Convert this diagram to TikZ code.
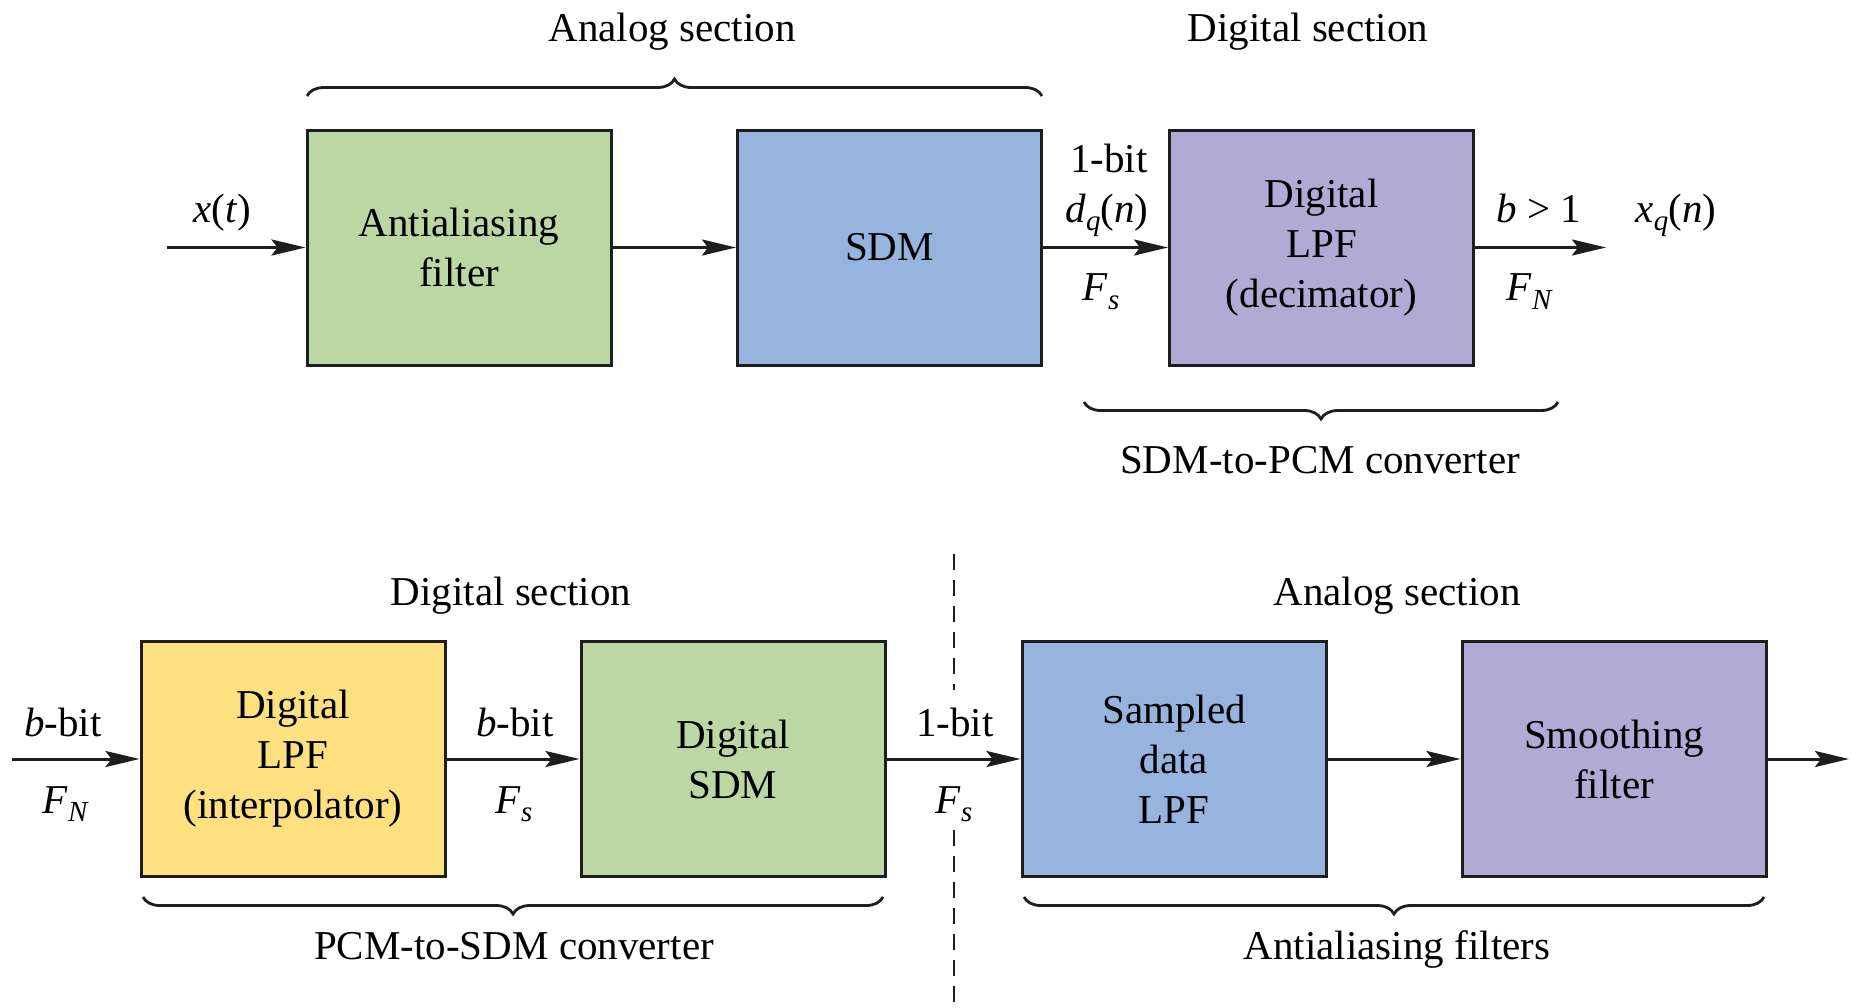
\documentclass[tikz,border=0pt]{standalone}
\usepackage{fontspec}
\setmainfont{Liberation Serif}
\usetikzlibrary{arrows.meta,decorations.pathreplacing}
\definecolor{cgreen}{RGB}{188,214,164}
\definecolor{cblue}{RGB}{150,180,222}
\definecolor{cpurple}{RGB}{177,170,213}
\definecolor{cyellow}{RGB}{253,224,128}
\definecolor{cline}{RGB}{30,30,30}
\newcommand{\sbs}[1]{\raisebox{-0.45ex}{\fontsize{14.5}{16}\selectfont\itshape #1}}
\tikzset{
  blk/.style={draw=cline, line width=1.5pt, minimum width=152pt, minimum height=117.5pt, align=center, inner sep=0pt},
  arr/.style={draw=cline, line width=1.5pt, -{Stealth[length=17pt,width=8pt,inset=3pt]}},
  lbl/.style={anchor=base, inner sep=0pt},
  brc/.style={draw=cline, line width=1.4pt, decorate, decoration={brace, amplitude=8.5pt}},
  dsh/.style={draw=cline, line width=1pt, dash pattern=on 8pt off 5pt},
}
\begin{document}
\begin{tikzpicture}[x=0.5pt,y=-0.5pt]
\fontsize{20.5}{25}\selectfont
\useasboundingbox (0,0) rectangle (1856,1007);
% top row
\node[blk, fill=cgreen]  (aaf)  at (459,247.5)  {Antialiasing\\filter};
\node[blk, fill=cblue]   (sdm)  at (889.5,247.5) {SDM};
\node[blk, fill=cpurple] (lpfd) at (1321.5,247.5) {Digital\\LPF\\(decimator)};
\coordinate (in1) at (167,247.5);
\coordinate (out1) at (1606,247.5);
\draw[arr] (in1) -- (aaf);
\draw[arr] (aaf) -- (sdm);
\draw[arr] (sdm) -- (lpfd);
\draw[arr] (lpfd) -- (out1);
\node[lbl] (ta) at (672,41.5) {Analog section};
\node[lbl] (td) at (1308,41.5) {Digital section};
\node[lbl] (xt) at (222.5,222.5) {\textit{x}(\textit{t})};
\node[lbl] (b1a) at (1109,172) {1-bit};
\node[lbl] (dq) at (1107,222.5) {\textit{d}\sbs{q}(\textit{n})};
\node[lbl] (fs1) at (1101,300.7) {\textit{F}\sbs{s}};
\node[lbl] (bg1) at (1539,222.5) {\textit{b} > 1};
\node[lbl] (xq) at (1676,222.5) {\textit{x}\sbs{q}(\textit{n})};
\node[lbl] (fn1) at (1529,300.7) {\textit{F}\sbs{N}};
\node[lbl] (cv1) at (1320,473) {SDM-to-PCM converter};
\draw[brc] (307,96) -- (1042,96);
\draw[brc] (1558,402) -- (1084,402);
% bottom row
\node[blk, fill=cyellow] (intp) at (293,759)  {Digital\\LPF\\(interpolator)};
\node[blk, fill=cgreen]  (dsdm) at (733,759)  {Digital\\SDM};
\node[blk, fill=cblue]   (sdl)  at (1174,759) {Sampled\\data\\LPF};
\node[blk, fill=cpurple] (smf)  at (1614,759) {Smoothing\\filter};
\coordinate (in2) at (12,759);
\coordinate (out2) at (1849,759);
\draw[arr] (in2) -- (intp);
\draw[arr] (intp) -- (dsdm);
\draw[arr] (dsdm) -- (sdl);
\draw[arr] (sdl) -- (smf);
\draw[arr] (smf) -- (out2);
\coordinate (dtop) at (954,554);
\coordinate (dmid1) at (954,690);
\coordinate (dmid2) at (954,830);
\coordinate (dbot) at (954,1007);
\draw[dsh] (dtop) -- (dmid1);
\draw[dsh] (dmid2) -- (dbot);
\node[lbl] (bd) at (511,605) {Digital section};
\node[lbl] (ba) at (1397,605) {Analog section};
\node[lbl] (bb1) at (63,736) {\textit{b}-bit};
\node[lbl] (fn2) at (65,813) {\textit{F}\sbs{N}};
\node[lbl] (bb2) at (515,736) {\textit{b}-bit};
\node[lbl] (fs2) at (514,813) {\textit{F}\sbs{s}};
\node[lbl] (b1b) at (955,736) {1-bit};
\node[lbl] (fs3) at (954,813) {\textit{F}\sbs{s}};
\node[lbl] (cv2) at (514,959) {PCM-to-SDM converter};
\node[lbl] (cv3) at (1397,959) {Antialiasing filters};
\draw[brc] (883,897) -- (143,897);
\draw[brc] (1764,897) -- (1024,897);
\end{tikzpicture}
\end{document}
